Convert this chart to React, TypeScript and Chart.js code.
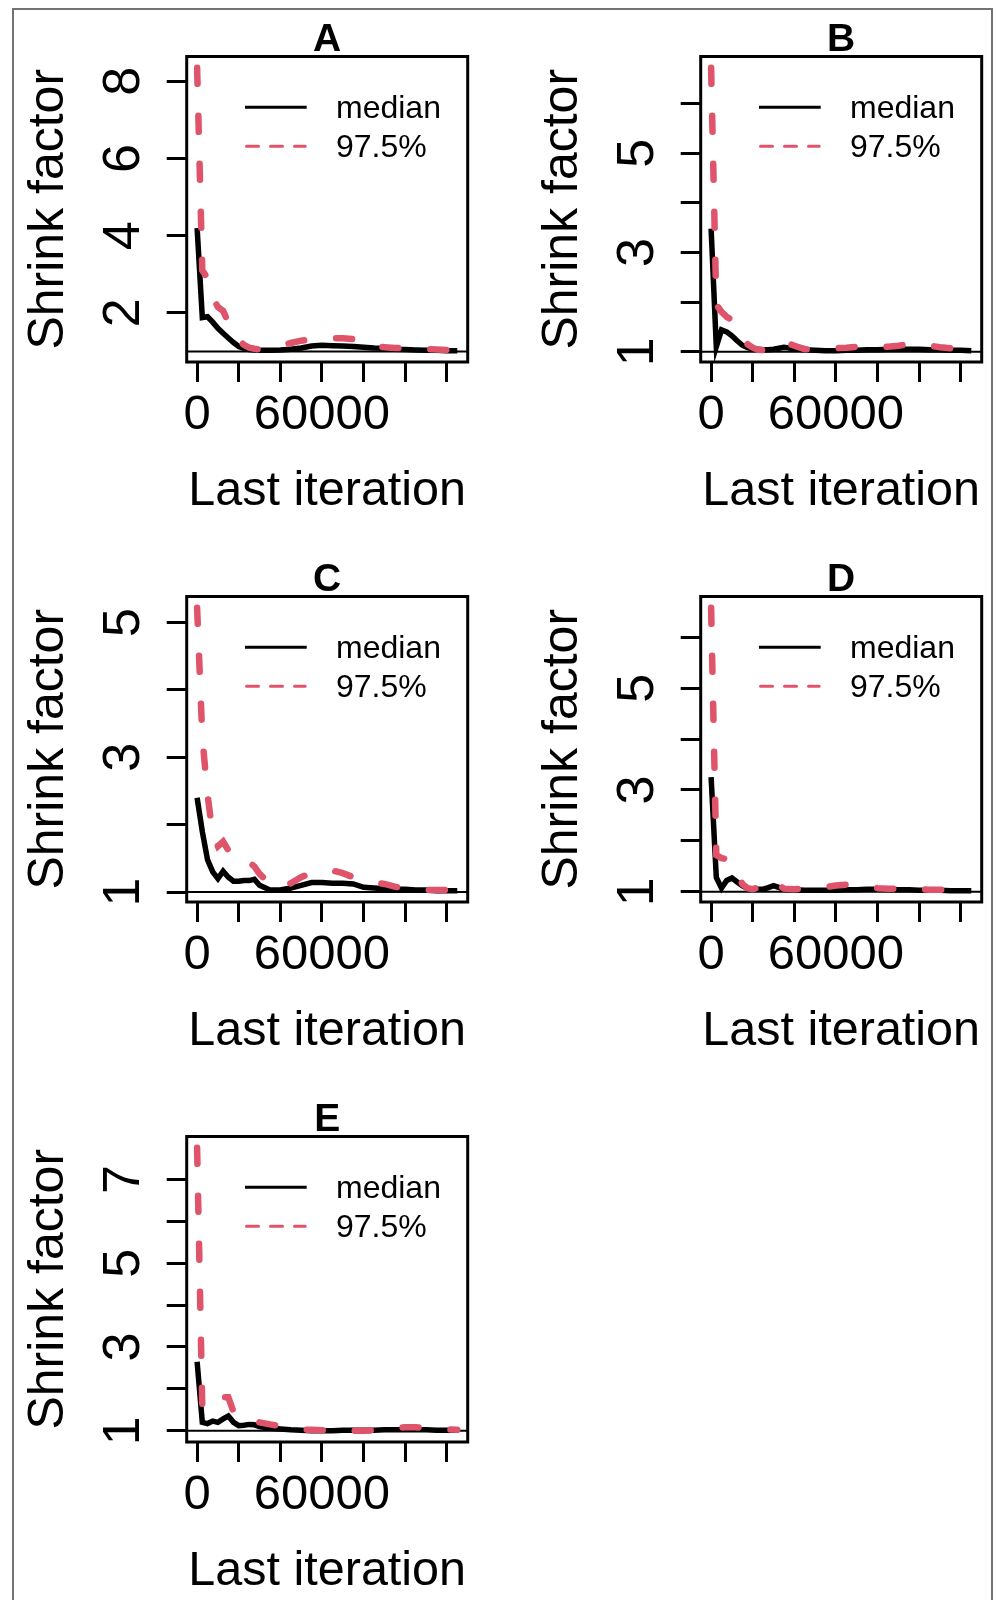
import React, { useEffect, useRef } from "react";
import { Chart, registerables } from "chart.js";

Chart.register(...registerables);

// ---------------- data ----------------
const ITERATIONS = [
  0, 2500, 5000, 7500, 10000, 12500, 15000, 17500, 20000, 22500, 25000, 27500, 30000,
  35000, 40000, 45000, 50000, 55000, 60000, 65000, 70000, 75000, 80000, 85000, 90000,
  95000, 100000, 105000, 110000, 115000, 120000, 125000,
];

const X_TICKS = [0, 20000, 40000, 60000, 80000, 100000, 120000];
const X_TICK_LABELS = [0, 60000];

const A_MEDIAN = [4.2, 1.88, 1.9, 1.76, 1.6, 1.47, 1.35, 1.23, 1.13, 1.08, 1.05, 1.04, 1.03,
  1.03, 1.04, 1.06, 1.09, 1.14, 1.16, 1.15, 1.14, 1.13, 1.11, 1.09, 1.08, 1.06, 1.05, 1.04, 1.03, 1.03, 1.02, 1.02];
const A_Q975 = [8.35, 3.1, 2.9, 2.4, 2.15, 2.05, 1.75, 1.5, 1.3, 1.17, 1.1, 1.07, 1.05,
  1.05, 1.15, 1.22, 1.28, 1.31, 1.32, 1.34, 1.34, 1.32, 1.17, 1.13, 1.11, 1.09, 1.08, 1.07, 1.06, 1.05, 1.04, 1.04];
const A_Y_TICKS = [2, 4, 6, 8];
const A_Y_LABELS = [2, 4, 6, 8];

const B_MEDIAN = [3.48, 1.1, 1.44, 1.4, 1.32, 1.22, 1.13, 1.08, 1.06, 1.05, 1.04, 1.04, 1.05,
  1.09, 1.06, 1.04, 1.03, 1.02, 1.02, 1.03, 1.03, 1.04, 1.04, 1.05, 1.05, 1.05, 1.05, 1.04, 1.04, 1.03, 1.03, 1.02];
const B_Q975 = [6.72, 1.95, 1.8, 1.7, 1.64, 1.45, 1.28, 1.15, 1.08, 1.04, 1.03, 1.04, 1.07,
  1.2, 1.12, 1.05, 1.05, 1.06, 1.07, 1.08, 1.1, 1.12, 1.11, 1.1, 1.12, 1.15, 1.15, 1.12, 1.09, 1.07, 1.06, 1.05];
const B_Y_TICKS = [1, 2, 3, 4, 5, 6];
const B_Y_LABELS = [1, 3, 5];

const C_MEDIAN = [2.4, 1.9, 1.48, 1.3, 1.2, 1.31, 1.22, 1.16, 1.16, 1.17, 1.17, 1.19, 1.1,
  1.03, 1.03, 1.06, 1.1, 1.14, 1.14, 1.13, 1.13, 1.12, 1.07, 1.06, 1.05, 1.04, 1.04, 1.03, 1.03, 1.02, 1.02, 1.02];
const C_Q975 = [5.22, 3.3, 2.45, 1.85, 1.68, 1.75, 1.62, 1.5, 1.45, 1.45, 1.44, 1.38, 1.27,
  1.12, 1.06, 1.13, 1.22, 1.29, 1.33, 1.32, 1.28, 1.22, 1.17, 1.14, 1.12, 1.08, 1.05, 1.04, 1.03, 1.03, 1.03, 1.03];
const C_Y_TICKS = [1, 2, 3, 4, 5];
const C_Y_LABELS = [1, 3, 5];

const D_MEDIAN = [3.25, 1.28, 1.07, 1.22, 1.27, 1.19, 1.12, 1.06, 1.05, 1.05, 1.05, 1.08, 1.12,
  1.05, 1.04, 1.03, 1.03, 1.03, 1.03, 1.04, 1.04, 1.05, 1.05, 1.05, 1.04, 1.04, 1.03, 1.03, 1.03, 1.02, 1.02, 1.02];
const D_Q975 = [6.58, 1.72, 1.66, 1.64, 1.6, 1.4, 1.15, 1.07, 1.05, 1.08, 1.17, 1.24, 1.2,
  1.06, 1.05, 1.06, 1.07, 1.09, 1.12, 1.14, 1.14, 1.1, 1.07, 1.06, 1.06, 1.05, 1.05, 1.04, 1.04, 1.03, 1.03, 1.03];
const D_Y_TICKS = [1, 2, 3, 4, 5, 6];
const D_Y_LABELS = [1, 3, 5];

const E_MEDIAN = [2.65, 1.2, 1.17, 1.23, 1.2, 1.28, 1.35, 1.2, 1.12, 1.13, 1.15, 1.14, 1.1,
  1.06, 1.04, 1.02, 1.01, 1.0, 1.0, 1.0, 1.01, 1.01, 1.01, 1.01, 1.02, 1.02, 1.02, 1.02, 1.02, 1.01, 1.01, 1.01];
const E_Q975 = [7.76, 1.55, 1.5, 1.55, 1.65, 1.8, 1.8, 1.45, 1.3, 1.26, 1.24, 1.23, 1.2,
  1.15, 1.11, 1.06, 1.03, 1.02, 1.01, 1.01, 1.01, 1.0, 1.0, 1.01, 1.03, 1.06, 1.08, 1.08, 1.07, 1.04, 1.03, 1.02];
const E_Y_TICKS = [1, 2, 3, 4, 5, 6, 7];
const E_Y_LABELS = [1, 3, 5, 7];

const TITLES = ["A", "B", "C", "D", "E"];
const SERIES_NAMES = ["median", "97.5%"];
const X_TITLE = "Last iteration";
const Y_TITLE = "Shrink factor";
const REFERENCE_LEVEL = 1;

// ---------------- styling / layout ----------------
const RED = "#DF536B";
const FONT = "'Liberation Sans', Arial, Helvetica, sans-serif";
const BOX_LEFT = 172.7;
const BOX_RIGHT = 453.7;
const BOX_BOTTOM = 352;
const CANVAS_H = 540;

const PANELS = [
  { title: TITLES[0], median: A_MEDIAN, q975: A_Q975, yTicks: A_Y_TICKS, yLabels: A_Y_LABELS, row: 0, col: 0 },
  { title: TITLES[1], median: B_MEDIAN, q975: B_Q975, yTicks: B_Y_TICKS, yLabels: B_Y_LABELS, row: 0, col: 1 },
  { title: TITLES[2], median: C_MEDIAN, q975: C_Q975, yTicks: C_Y_TICKS, yLabels: C_Y_LABELS, row: 1, col: 0 },
  { title: TITLES[3], median: D_MEDIAN, q975: D_Q975, yTicks: D_Y_TICKS, yLabels: D_Y_LABELS, row: 1, col: 1 },
  { title: TITLES[4], median: E_MEDIAN, q975: E_Q975, yTicks: E_Y_TICKS, yLabels: E_Y_LABELS, row: 2, col: 0 },
];

const boxPlugin = {
  id: "rBox",
  beforeDatasetsDraw(chart: any) {
    const { ctx, chartArea } = chart;
    const y = chart.scales.y.getPixelForValue(REFERENCE_LEVEL);
    ctx.save();
    ctx.strokeStyle = "#000";
    ctx.lineWidth = 2;
    ctx.beginPath();
    ctx.moveTo(chartArea.left, y);
    ctx.lineTo(chartArea.right, y);
    ctx.stroke();
    ctx.restore();
  },
  afterDatasetsDraw(chart: any) {
    const { ctx, chartArea } = chart;
    ctx.save();
    ctx.strokeStyle = "#000";
    ctx.lineWidth = 3;
    ctx.strokeRect(chartArea.left, chartArea.top, chartArea.right - chartArea.left, chartArea.bottom - chartArea.top);
    ctx.restore();
  },
};

const legendPlugin = {
  id: "rLegend",
  afterDraw(chart: any) {
    const { ctx, chartArea } = chart;
    const items = chart.data.datasets.map((d: any) => ({
      label: d.label,
      color: d.borderColor,
      dash: d.borderDash && d.borderDash.length ? [12, 12] : [],
    }));
    ctx.save();
    items.forEach((it: any, i: number) => {
      const y = chartArea.top + 50.7 + i * 39;
      ctx.strokeStyle = it.color;
      ctx.lineWidth = 3;
      ctx.lineCap = it.dash.length ? "round" : "butt";
      ctx.setLineDash(it.dash);
      ctx.beginPath();
      ctx.moveTo(chartArea.left + 58.3 + (it.dash.length ? 1.5 : 0), y);
      ctx.lineTo(chartArea.left + 120 - (it.dash.length ? 1.5 : 0), y);
      ctx.stroke();
      ctx.setLineDash([]);
      ctx.fillStyle = "#000";
      ctx.font = `32px ${FONT}`;
      ctx.textAlign = "left";
      ctx.textBaseline = "alphabetic";
      ctx.fillText(it.label, chartArea.left + 149.3, y + 11);
    });
    ctx.restore();
  },
};

function Panel({ cfg, left, top, width }: any) {
  const ref = useRef<HTMLCanvasElement | null>(null);
  useEffect(() => {
    const canvas = ref.current;
    if (!canvas) return;
    const all = [...cfg.median, ...cfg.q975];
    const yMin = Math.min(...all);
    const yMax = Math.max(...all);
    const yPad = (yMax - yMin) * 0.04;
    const xMin = Math.min(...ITERATIONS);
    const xMax = Math.max(...ITERATIONS);
    const xPad = (xMax - xMin) * 0.04;
    const grid = {
      display: true,
      drawOnChartArea: false,
      drawTicks: true,
      tickLength: 20,
      tickWidth: 3,
      tickColor: "#000",
      color: "#000",
      lineWidth: 3,
    };
    const chart = new Chart(canvas, {
      type: "line",
      data: {
        datasets: [
          {
            label: SERIES_NAMES[0],
            data: ITERATIONS.map((x, i) => ({ x, y: cfg.median[i] })),
            borderColor: "#000",
            borderWidth: 5.5,
            pointRadius: 0,
            tension: 0,
            order: 1,
          },
          {
            label: SERIES_NAMES[1],
            data: ITERATIONS.map((x, i) => ({ x, y: cfg.q975[i] })),
            borderColor: RED,
            borderWidth: 6.5,
            borderDash: [16, 32],
            borderCapStyle: "round",
            pointRadius: 0,
            tension: 0,
            order: 0,
          },
        ],
      },
      options: {
        animation: false,
        responsive: false,
        devicePixelRatio: 1,
        events: [],
        layout: { padding: { left: 0, top: 0, right: width - BOX_RIGHT, bottom: 0 } },
        plugins: {
          legend: { display: false },
          tooltip: { enabled: false },
          title: {
            display: true,
            text: cfg.title,
            fullSize: false,
            color: "#000",
            font: { family: FONT, size: 39, weight: "bold", lineHeight: 0.8 },
            padding: { top: 14.9, bottom: 0.4 },
          },
        },
        scales: {
          x: {
            type: "linear",
            min: xMin - xPad,
            max: xMax + xPad,
            afterBuildTicks: (s: any) => {
              s.ticks = X_TICKS.map((v) => ({ value: v }));
            },
            afterFit: (s: any) => {
              s.height = CANVAS_H - BOX_BOTTOM;
              s.paddingLeft = 0;
              s.paddingRight = 0;
            },
            ticks: {
              autoSkip: false,
              maxRotation: 0,
              minRotation: 0,
              padding: 8.5,
              color: "#000",
              font: { family: FONT, size: 49, lineHeight: 1 },
              callback: (v: any) => (X_TICK_LABELS.includes(Number(v)) ? String(v) : ""),
            },
            grid,
            border: { display: false },
            title: {
              display: true,
              text: X_TITLE,
              color: "#000",
              font: { family: FONT, size: 48.5, lineHeight: 1 },
              padding: { top: 0, bottom: 34.2 },
            },
          },
          y: {
            type: "linear",
            min: yMin - yPad,
            max: yMax + yPad,
            afterBuildTicks: (s: any) => {
              s.ticks = cfg.yTicks.map((v: number) => ({ value: v }));
            },
            afterFit: (s: any) => {
              s.width = BOX_LEFT;
              s.paddingTop = 0;
              s.paddingBottom = 0;
            },
            ticks: {
              autoSkip: false,
              minRotation: 90,
              maxRotation: 90,
              crossAlign: "center",
              padding: 27.6,
              color: "#000",
              font: { family: FONT, size: 52, lineHeight: 1 },
              callback: (v: any) => (cfg.yLabels.includes(Number(v)) ? String(v) : ""),
            },
            grid,
            border: { display: false },
            title: {
              display: true,
              text: Y_TITLE,
              color: "#000",
              font: { family: FONT, size: 50, lineHeight: 1 },
              padding: { top: 10.2, bottom: 0 },
            },
          },
        },
      },
      plugins: [boxPlugin, legendPlugin],
    } as any);
    return () => chart.destroy();
  }, [cfg, width]);
  return (
    <canvas
      ref={ref}
      width={width}
      height={CANVAS_H}
      style={{ position: "absolute", left, top, width, height: CANVAS_H }}
    />
  );
}

export default function App() {
  return (
    <div
      style={{
        position: "absolute",
        left: 0,
        top: 0,
        width: 997,
        height: 1600,
        overflow: "hidden",
        background: "#fff",
      }}
    >
      <div
        style={{
          position: "absolute",
          left: 12,
          top: 8,
          width: 981,
          height: 1700,
          border: "2px solid #737373",
          boxSizing: "border-box",
        }}
      />
      {PANELS.map((p) => (
        <Panel
          key={p.title}
          cfg={p}
          left={p.col === 0 ? 14 : 528}
          top={10 + p.row * 540}
          width={p.col === 0 ? 486 : 462}
        />
      ))}
    </div>
  );
}
